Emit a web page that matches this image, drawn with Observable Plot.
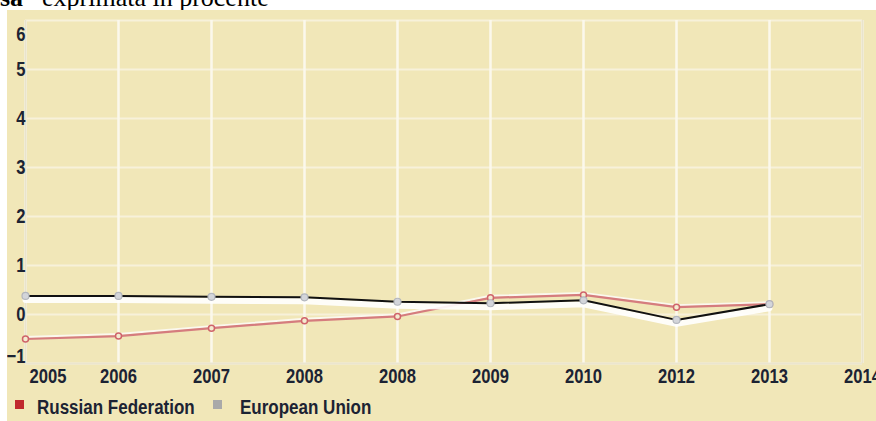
<!DOCTYPE html>
<html>
<head>
<meta charset="utf-8">
<script src="https://cdn.jsdelivr.net/npm/d3@7"></script>
<script src="https://cdn.jsdelivr.net/npm/@observablehq/plot@0.6"></script>
<style>
  html, body { margin: 0; padding: 0; background: #ffffff; width: 876px; height: 421px; overflow: hidden; }
  #title { position: absolute; left: 0; top: 0; width: 876px; height: 10px; overflow: hidden; font-family: "Liberation Serif", "Times New Roman", serif; font-size: 26px; line-height: 26px; color: #000; }
  #title span { position: absolute; top: -15px; white-space: pre; }
  #panel { position: absolute; left: 7px; top: 10px; width: 869px; height: 411px; background: #f1e7b8; overflow: hidden; }
  #chart { position: absolute; left: 0; top: 0; }
  #chart svg { overflow: visible; background: transparent; }
  .sw { position: absolute; width: 9px; height: 9px; }
  .lt { position: absolute; font-family: "Liberation Sans", Arial, sans-serif; font-weight: bold; font-size: 20px; line-height: 20px; color: #1c2333; white-space: nowrap; transform: scaleX(0.85); transform-origin: 0 0; }
</style>
</head>
<body>
<div id="title"><span style="left:0px;font-weight:bold;">sa</span><span style="left:42px;">exprimata in procente</span></div>
<div id="panel">
  <div id="chart"></div>
  <div id="legend"></div>
</div>
<script>
const xLabels = ["2005", "2006", "2007", "2008", "2008", "2009", "2010", "2012", "2013", "2014"];
const russia = [-0.50, -0.44, -0.28, -0.13, -0.04, 0.34, 0.40, 0.15, 0.21];
const eu = [0.38, 0.38, 0.36, 0.35, 0.26, 0.23, 0.29, -0.11, 0.21];
const yTicks = [-1, 0, 1, 2, 3, 4, 5, 6];
const seriesNames = ["Russian Federation", "European Union"];
const seriesColors = ["#c0282d", "#a9a9a9"];

const idx = xLabels.map((_, i) => i);
const rows = (vals) => vals.map((v, i) => ({i, v}));
const ruRows = rows(russia);
const euRows = rows(eu);
const midY = yTicks.slice(1, -1);

const font = "Liberation Sans, Arial, sans-serif";
const labelColor = "#1c2333";
const txt = {fontSize: 20, fontWeight: "bold", fill: labelColor, label: null, tickSize: 0};

const chart = Plot.plot({
  width: 869,
  height: 380,
  marginLeft: 18,
  marginRight: 14,
  marginTop: 10,
  marginBottom: 27,
  style: {background: "transparent", fontFamily: font, fontSize: "20px", fontWeight: "bold", color: labelColor},
  x: {type: "linear", domain: [0, xLabels.length - 1], axis: null},
  y: {domain: [-1, 6], axis: null},
  marks: [
    Plot.ruleY(yTicks, {stroke: "#f7f1da", strokeWidth: 2}),
    Plot.ruleX(idx, {stroke: "#fbf8ec", strokeWidth: 2.5}),
    Plot.ruleX([0, xLabels.length - 1], {stroke: "#e9e3cc", strokeWidth: 2}),
    Plot.ruleY([-1], {stroke: "#ebe5cf", strokeWidth: 2}),
    Plot.axisX(idx.slice(1), {...txt, tickPadding: 5, tickFormat: (d) => xLabels[d]}),
    Plot.axisX([0], {...txt, tickPadding: 5, tickFormat: (d) => xLabels[d], textAnchor: "start", dx: 4}),
    Plot.axisY(midY, {...txt, tickPadding: 0}),
    Plot.axisY([6], {...txt, tickPadding: 0, dy: 14}),
    Plot.axisY([-1], {...txt, tickPadding: 0, dy: -7}),
    Plot.line(ruRows, {x: "i", y: "v", stroke: "#fbf8ee", strokeWidth: 2, dy: -2}),
    Plot.line(ruRows, {x: "i", y: "v", stroke: "#d57c7e", strokeWidth: 2.2}),
    Plot.line(euRows, {x: "i", y: "v", stroke: "#ffffff", strokeWidth: 6, dy: 4, strokeOpacity: 0.9}),
    Plot.line(euRows, {x: "i", y: "v", stroke: "#111111", strokeWidth: 2}),
    Plot.dot(ruRows, {x: "i", y: "v", r: 3, stroke: "#cf646a", strokeWidth: 1.5, fill: "#f4ead0"}),
    Plot.dot(euRows, {x: "i", y: "v", r: 3.5, stroke: "#b3b6bd", strokeWidth: 1.2, fill: "#d3d5da"})
  ]
});
// condense the axis labels horizontally (narrow bold look)
chart.querySelectorAll("text").forEach((t) => {
  const tr = t.getAttribute("transform") || "";
  t.setAttribute("transform", tr + " scale(0.83,1)");
});
document.getElementById("chart").appendChild(chart);

const legend = document.getElementById("legend");
const swLeft = [8, 206];
seriesNames.forEach((name, k) => {
  const sw = document.createElement("div");
  sw.className = "sw";
  sw.style.left = swLeft[k] + "px";
  sw.style.top = "390px";
  sw.style.background = seriesColors[k];
  legend.appendChild(sw);
  const t = document.createElement("div");
  t.className = "lt";
  t.style.left = (swLeft[k] + 22 + (k ? 5 : 0)) + "px";
  t.style.top = "387px";
  t.textContent = name;
  legend.appendChild(t);
});
</script>
</body>
</html>
